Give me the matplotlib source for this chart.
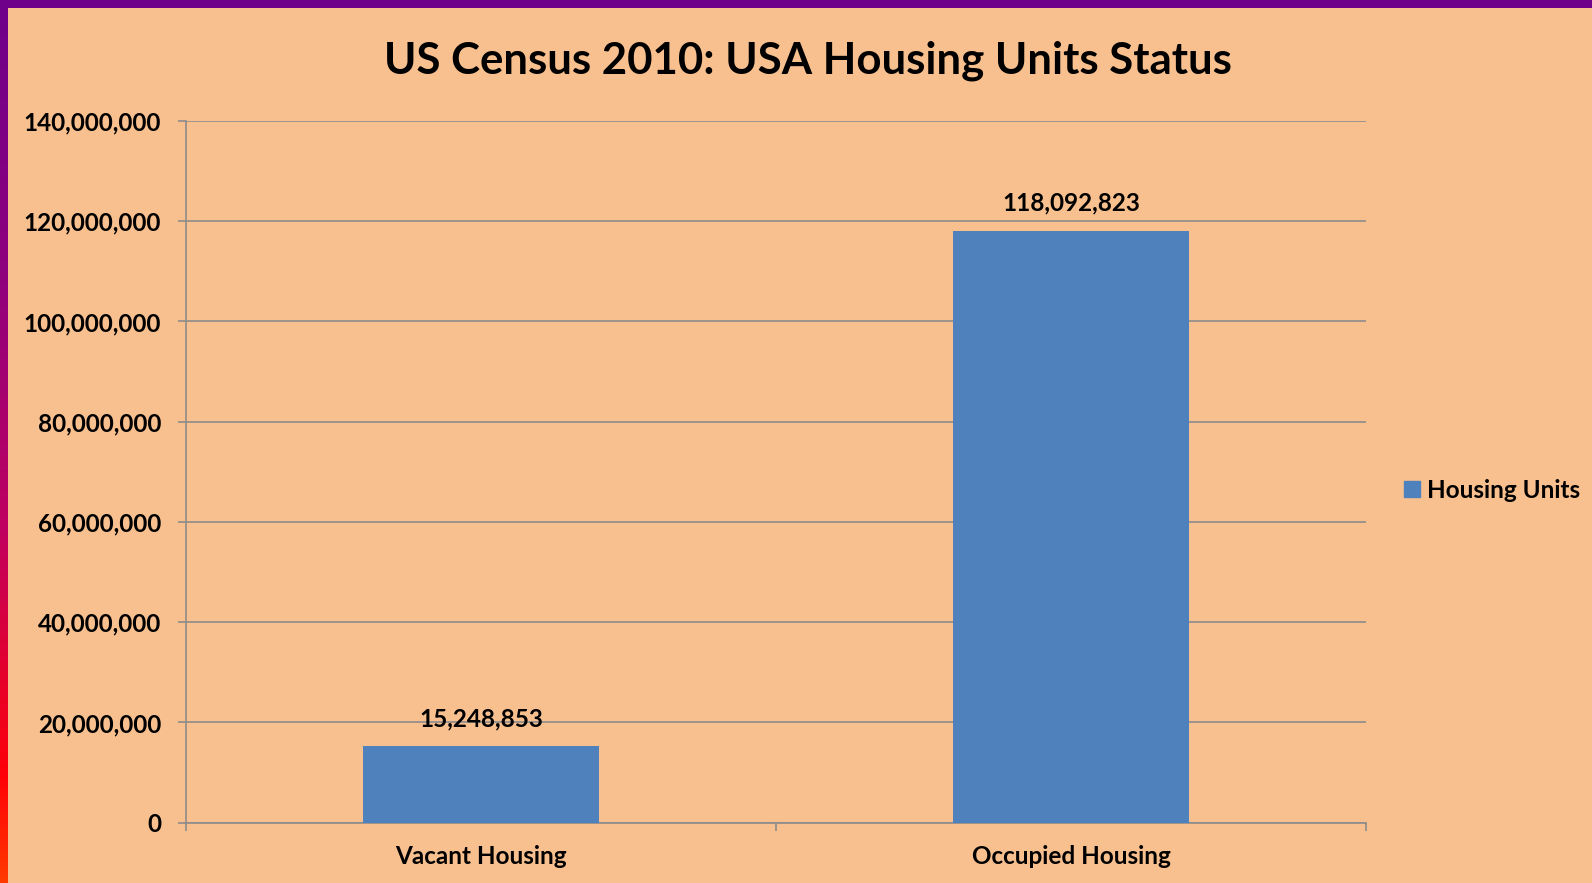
import numpy as np
import matplotlib
matplotlib.use("Agg")
import matplotlib.pyplot as plt
from matplotlib.colors import LinearSegmentedColormap
from matplotlib.ticker import FuncFormatter, MultipleLocator

# dati
categorie = ["Vacant Housing", "Occupied Housing"]
unita = [15248853, 118092823]
serie = "Housing Units"
titolo = "US Census 2010: USA Housing Units Status"

SFONDO = "#F9C08F"
BLU = "#4F81BD"
GRIGIO = "#8C8C8C"
FS = 17.5

plt.rcParams["font.family"] = ["Lato", "DejaVu Sans"]
plt.rcParams["font.weight"] = "bold"

W, H = 1592, 883
fig = plt.figure(figsize=(W / 100, H / 100), dpi=100)
fig.patch.set_facecolor(SFONDO)

# bordo superiore viola e bordo sinistro sfumato
fig.add_artist(plt.Rectangle((0, 1 - 8 / H), 1, 8 / H, transform=fig.transFigure,
                             color="#6E008A", lw=0, zorder=10))
bordo = fig.add_axes([0, 0, 8 / W, 1])
cmap = LinearSegmentedColormap.from_list(
    "bordo", [(0, "#6E008A"), (0.3, "#8E007E"), (0.6, "#C00060"),
              (0.88, "#FF0008"), (1, "#FF3A00")])
bordo.imshow(np.linspace(0, 1, 256).reshape(-1, 1), aspect="auto", cmap=cmap)
bordo.axis("off")

ax = fig.add_axes([186 / W, 1 - 822.7 / H, 1180 / W, (822.7 - 121) / H])
ax.set_facecolor(SFONDO)

x = np.arange(len(categorie))
barre = ax.bar(x, unita, width=0.4, color=BLU, zorder=3)
for b, v in zip(barre, unita):
    ax.annotate(f"{v:,}", (b.get_x() + b.get_width() / 2, v), xytext=(0, 11.5),
                textcoords="offset points", ha="center", va="bottom",
                fontsize=FS, fontweight="bold")

ax.set_xlim(-0.5, len(categorie) - 0.5)
ax.set_ylim(0, 140_000_000)
ax.yaxis.set_major_locator(MultipleLocator(20_000_000))
ax.yaxis.set_major_formatter(FuncFormatter(lambda v, p: f"{int(v):,}"))
ax.grid(axis="y", color=GRIGIO, lw=1.2, zorder=0)

ax.set_xticks(x)
ax.set_xticklabels(categorie)
ax.set_xticks(np.arange(-0.5, len(categorie)), minor=True)
ax.tick_params(axis="x", which="major", length=0, pad=16, labelsize=FS)
ax.tick_params(axis="x", which="minor", length=6, color=GRIGIO, width=1.2)
ax.tick_params(axis="y", length=6, color=GRIGIO, width=1.2, pad=12, labelsize=FS)

for s in ["top", "right"]:
    ax.spines[s].set_visible(False)
for s in ["left", "bottom"]:
    ax.spines[s].set_color(GRIGIO)
    ax.spines[s].set_linewidth(1.2)

fig.text(808 / W, 1 - 61 / H, titolo, ha="center", va="center",
         fontsize=31.5, fontweight="bold")

fig.legend(handles=[plt.Rectangle((0, 0), 1, 1, color=BLU)], labels=[serie],
           loc="center left", bbox_to_anchor=(1382 / W, 1 - 490 / H),
           frameon=False, handlelength=0.65, handleheight=0.65,
           handletextpad=0.3, prop={"weight": "bold", "size": FS})

fig.savefig("out.png", dpi=100, facecolor=fig.get_facecolor())
